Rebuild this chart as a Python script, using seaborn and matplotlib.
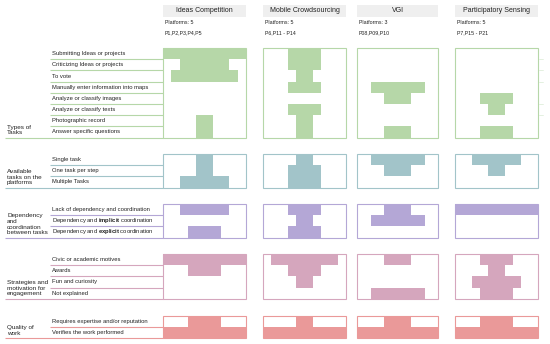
import matplotlib
matplotlib.use("Agg")
import matplotlib.pyplot as plt
from matplotlib.patches import Rectangle
import seaborn as sns

# columns
platforms = ["Ideas Competition", "Mobile Crowdsourcing", "VGI", "Participatory Sensing"]
n_platforms = [5, 5, 3, 5]
platform_ids = ["P1,P2,P3,P4,P5", "P6,P11 - P14", "P08,P09,P10", "P7,P15 - P21"]

# sections: group label, row labels, counts per column
groups = ["Types of\nTasks",
          "Available\ntasks on the\nplatforms",
          "Dependency\nand\ncoordination\nbetween tasks",
          "Strategies and\nmotivation for\nengagement",
          "Quality of\nwork"]

types_rows = ["Submitting Ideas or projects", "Criticizing Ideas or projects", "To vote",
              "Manually enter information into maps", "Analyze or classify images",
              "Analyze or classify texts", "Photographic record", "Answer specific questions"]
types_counts = [[5, 3, 4, 0, 0, 0, 1, 1],
                [2, 2, 1, 2, 0, 2, 1, 1],
                [0, 0, 0, 2, 1, 0, 0, 1],
                [0, 0, 0, 0, 2, 1, 0, 2]]

avail_rows = ["Single task", "One task per step", "Multiple Tasks"]
avail_counts = [[1, 1, 3], [1, 2, 2], [2, 1, 0], [3, 1, 0]]

dep_rows = ["Lack of dependency and coordination",
            r"Dependency and $\bf{implicit}$ coordination",
            r"Dependency and $\bf{explicit}$ coordination"]
dep_counts = [[3, 0, 2], [2, 1, 2], [1, 2, 0], [5, 0, 0]]

strat_rows = ["Civic or academic motives", "Awards", "Fun and curiosity", "Not explained"]
strat_counts = [[5, 2, 0, 0], [4, 2, 1, 0], [1, 0, 0, 2], [2, 1, 3, 2]]

quality_rows = ["Requires expertise and/or reputation", "Verifies the work performed"]
quality_counts = [[2, 5], [1, 5], [1, 3], [2, 5]]

section_rows = [types_rows, avail_rows, dep_rows, strat_rows, quality_rows]
section_counts = [types_counts, avail_counts, dep_counts, strat_counts, quality_counts]
section_colors = ["#b6d7a8", "#a2c4c9", "#b4a7d6", "#d5a6bd", "#ea9999"]

# layout (pixel units)
col_left = [163, 263, 357, 455]
col_width = [83, 83, 81, 83]
section_top = [48, 154, 204, 254, 316]
row_h = 11.2

sns.set_theme(style="white")
plt.rcParams["font.family"] = ["Liberation Sans", "DejaVu Sans"]
plt.rcParams["mathtext.fontset"] = "custom"
plt.rcParams["mathtext.rm"] = "Liberation Sans"
plt.rcParams["mathtext.bf"] = "Liberation Sans:bold"

fig = plt.figure(figsize=(5.5, 3.44), dpi=100)
ax = fig.add_axes([0, 0, 1, 1])
ax.set_xlim(0, 550)
ax.set_ylim(344, 0)
ax.axis("off")

txt = "#222222"

# headers
for name, n, ids, x0, w in zip(platforms, n_platforms, platform_ids, col_left, col_width):
    ax.add_patch(Rectangle((x0, 4.5), w, 12, facecolor="#efefef", edgecolor="none"))
    ax.text(x0 + w / 2, 10.7, name, ha="center", va="center", fontsize=5, color=txt)
    ax.text(x0 + 2, 22.5, f"Platforms: {n}", ha="left", va="center", fontsize=3.8, color=txt)
    ax.text(x0 + 2, 33.2, ids, ha="left", va="center", fontsize=3.8, color=txt)

for g, rows, counts, color, top in zip(groups, section_rows, section_counts,
                                       section_colors, section_top):
    nrows = len(rows)
    bottom = top + nrows * row_h
    ax.text(7, bottom - 2.3, g, ha="left", va="bottom", fontsize=4.6,
            color=txt, linespacing=1.15)
    for i, lab in enumerate(rows):
        yc = top + (i + 0.5) * row_h
        ax.text(52, yc, lab, ha="left", va="center", fontsize=4.2, color=txt)
        ly = top + (i + 1) * row_h
        x_start = 5 if i == nrows - 1 else 50
        ax.plot([x_start, col_left[0]], [ly, ly], color=color, lw=0.8,
                solid_capstyle="butt")
    for col, (x0, w, n) in enumerate(zip(col_left, col_width, n_platforms)):
        unit = w / n
        vals = counts[col]
        widths = [v * unit for v in vals]
        centers = [top + (i + 0.5) * row_h for i in range(nrows)]
        lefts = [x0 + w / 2 - wd / 2 for wd in widths]
        ax.barh(centers, widths, left=lefts, height=row_h, color=color,
                linewidth=0, zorder=2)
        ax.add_patch(Rectangle((x0, top), w, nrows * row_h, fill=False,
                               edgecolor=color, lw=0.8, zorder=3))

# faint leftover ticks on the right of the first section
for i in [0, 1, 2, 4, 5]:
    ly = section_top[0] + (i + 1) * row_h
    ax.plot([539, 543], [ly, ly], color="#dfeeda", lw=0.6)

fig.savefig("out.png", dpi=100, facecolor="white")
